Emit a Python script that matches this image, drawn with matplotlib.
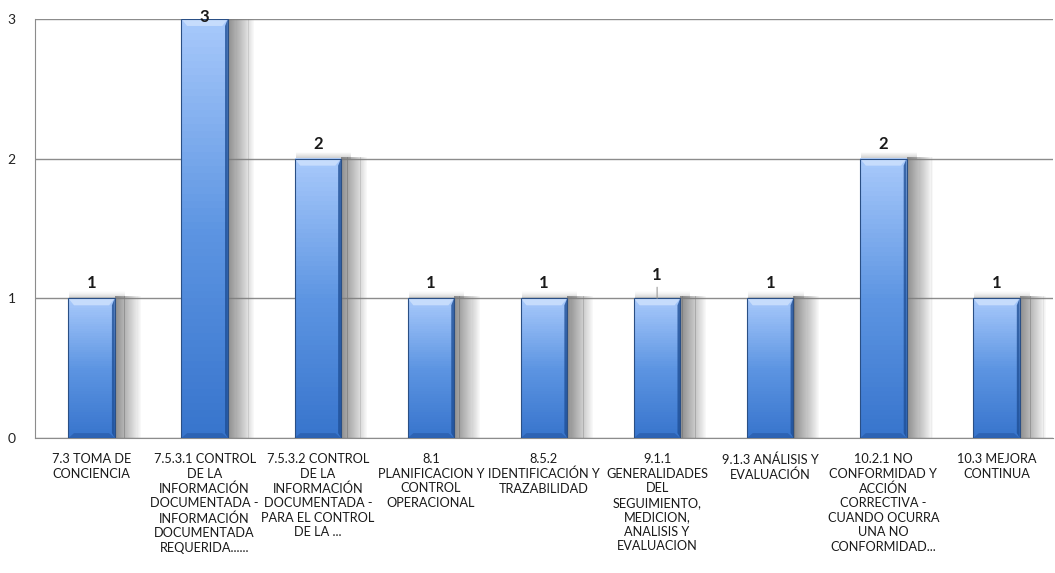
import matplotlib
matplotlib.use('Agg')
import matplotlib.pyplot as plt
import numpy as np
from matplotlib.colors import LinearSegmentedColormap
from matplotlib.patches import Polygon, Rectangle

plt.rcParams['font.family'] = ['Lato', 'DejaVu Sans']

# datos
categorias = [
    '7.3 TOMA DE\nCONCIENCIA',
    '7.5.3.1 CONTROL\nDE LA\nINFORMACIÓN\nDOCUMENTADA -\nINFORMACIÓN\nDOCUMENTADA\nREQUERIDA......',
    '7.5.3.2 CONTROL\nDE LA\nINFORMACIÓN\nDOCUMENTADA -\nPARA EL CONTROL\nDE LA ...',
    '8.1\nPLANIFICACION Y\nCONTROL\nOPERACIONAL',
    '8.5.2\nIDENTIFICACIÓN Y\nTRAZABILIDAD',
    '9.1.1\nGENERALIDADES\nDEL\nSEGUIMIENTO,\nMEDICION,\nANALISIS Y\nEVALUACION',
    '9.1.3 ANÁLISIS Y\nEVALUACIÓN',
    '10.2.1 NO\nCONFORMIDAD Y\nACCIÓN\nCORRECTIVA -\nCUANDO OCURRA\nUNA NO\nCONFORMIDAD...',
    '10.3 MEJORA\nCONTINUA',
]
valores = [1, 3, 2, 1, 1, 1, 1, 2, 1]
ticks_y = [0, 1, 2, 3]

W, H = 1055, 573
fig = plt.figure(figsize=(W / 100, H / 100), dpi=100)
ax = fig.add_axes([35 / W, 1 - 438 / H, 1018 / W, 419 / H])

x = np.arange(len(valores))
ancho = 0.41

# gradiente vertical de las barras (tiras horizontales)
cmap_barra = LinearSegmentedColormap.from_list('barra', ['#3774cc', '#5d95e2', '#a8c9fb'])
n_grad = 60

# sombra: tiras verticales con transparencia decreciente
n_tiras = 24
somb_der = 0.23
somb_arr = 0.05
for xi, v in zip(x, valores):
    izq, der = xi - ancho / 2, xi + ancho / 2
    paso = somb_der / n_tiras
    for k in range(n_tiras):
        t = k / n_tiras
        a = 0.85 * (1 - t) ** 0.9
        ax.add_patch(Rectangle((der + k * paso, 0), paso * 1.05, v + 0.015,
                               facecolor='#7c7c7c', edgecolor='none', alpha=a, zorder=2))
    # resplandor superior
    pasoy = somb_arr / 8
    for k in range(8):
        a = 0.4 * (1 - k / 8) ** 1.5
        ax.add_patch(Rectangle((izq + 0.01, v + k * pasoy), ancho + 0.08, pasoy,
                               facecolor='#7a7a7a', edgecolor='none', alpha=a, zorder=2))
    # cuerpo de la barra
    hy = v / n_grad
    for j in range(n_grad):
        ax.add_patch(Rectangle((izq, j * hy), ancho, hy * 1.05,
                               facecolor=cmap_barra((j + 0.5) / n_grad), edgecolor='none', zorder=3))
    # bisel superior e inferior
    dy = 0.05
    dx = 0.05
    ax.add_patch(Polygon([[izq, v], [der, v], [der - dx, v - dy], [izq + dx, v - dy]],
                         closed=True, facecolor='#c6dcfc', edgecolor='none', zorder=4))
    ax.add_patch(Polygon([[izq, 0], [der, 0], [der - dx, dy * 0.7], [izq + dx, dy * 0.7]],
                         closed=True, facecolor='#2a5fae', edgecolor='none', alpha=0.8, zorder=4))
    # borde derecho oscuro
    ax.add_patch(Polygon([[der, v], [der, 0], [der - 0.025, dy * 0.7], [der - 0.025, v - dy]],
                         closed=True, facecolor='#1f4f96', edgecolor='none', alpha=0.8, zorder=4))
    ax.bar(xi, v, width=ancho, facecolor='none', edgecolor='#2a4f85', linewidth=0.8, zorder=5)

ax.set_xlim(-0.5, len(valores) - 0.5)
ax.set_ylim(0, 3)

# etiquetas de datos
vmax = max(valores)
for i, (xi, v) in enumerate(zip(x, valores)):
    if v == vmax:
        off = -4
    elif i == 5:
        off = 11
    else:
        off = 5
    props = dict(arrowstyle='-', color='#9a9a9a', lw=0.8, shrinkA=1, shrinkB=0) if i == 5 else None
    ax.annotate(str(v), xy=(xi, v), xytext=(0, off), textcoords='offset points',
                ha='center', va='bottom', fontsize=12, fontweight='bold', color='#1a1a1a',
                arrowprops=props, zorder=6, annotation_clip=False)

ax.set_yticks(ticks_y)
ax.set_yticklabels([str(t) for t in ticks_y], fontsize=10, color='#222222')
ax.yaxis.grid(True, color='#8c8c8c', linewidth=1.0, zorder=0)
ax.set_axisbelow(True)
ax.set_xticks(x)
ax.set_xticklabels(categorias, fontsize=9.2, color='#1a1a1a', linespacing=1.25)
ax.tick_params(axis='both', length=0)
ax.tick_params(axis='y', pad=14)
ax.tick_params(axis='x', pad=11)
for lado in ['top', 'right']:
    ax.spines[lado].set_visible(False)
ax.spines['left'].set_color('#8c8c8c')
ax.spines['bottom'].set_color('#8c8c8c')

fig.savefig('out.png', dpi=100)
